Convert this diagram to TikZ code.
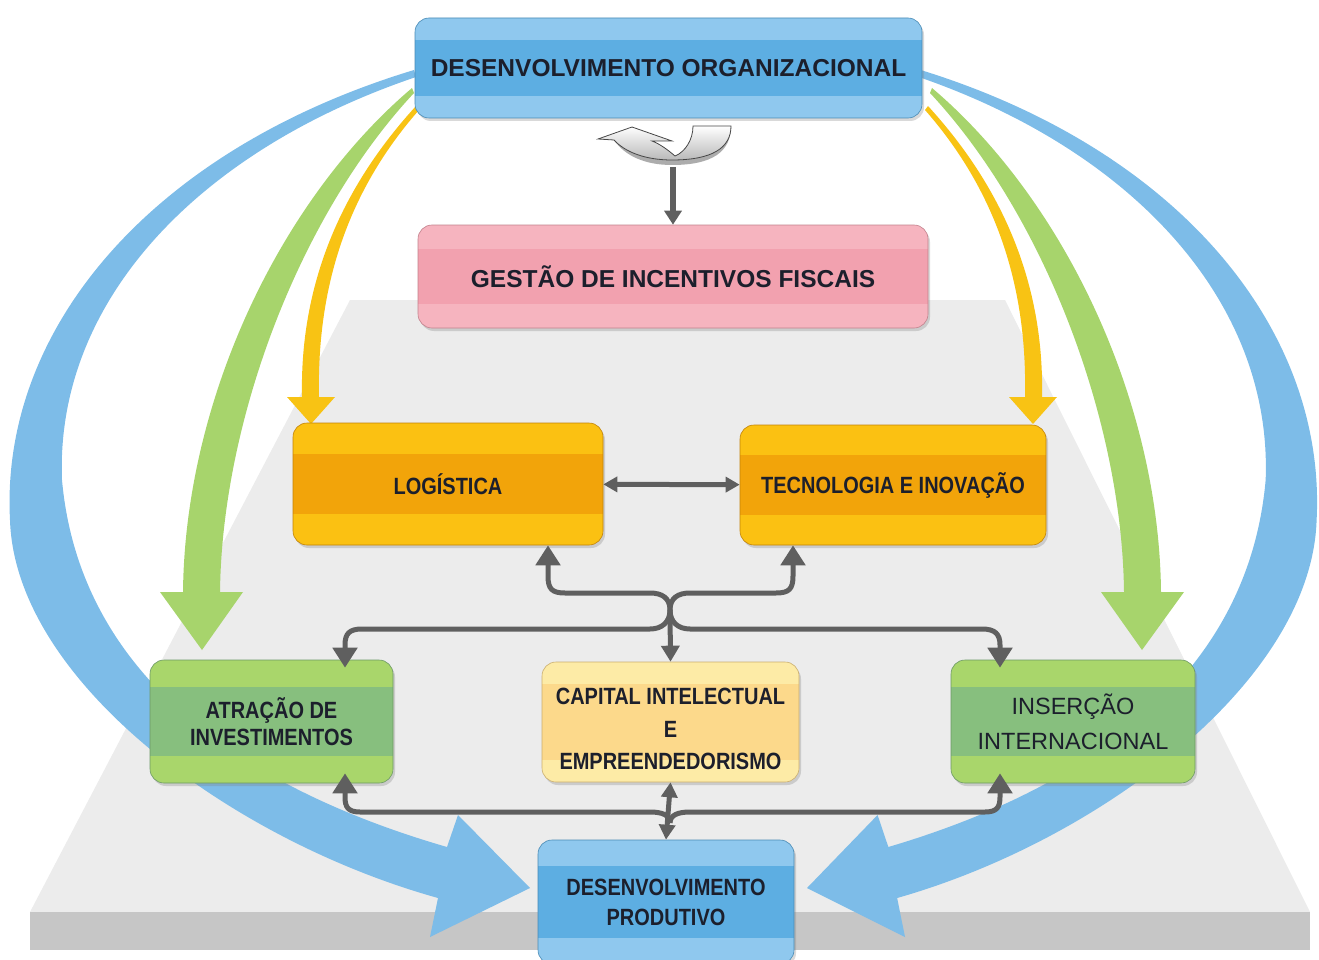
\documentclass[tikz,border=0pt]{standalone}
\usepackage{fontspec}
\setmainfont{Liberation Sans}
\newfontfamily\narrowfont{Liberation Sans}[FakeStretch=0.85]
\usetikzlibrary{arrows.meta,shadows}

\definecolor{ink}{HTML}{1C1F2C}
\definecolor{skyband}{HTML}{8FC8EE}
\definecolor{sky}{HTML}{5DAEE2}
\definecolor{roseband}{HTML}{F6B4BF}
\definecolor{rose}{HTML}{F2A1AF}
\definecolor{ambband}{HTML}{FBC112}
\definecolor{amber}{HTML}{F2A40A}
\definecolor{leafband}{HTML}{A9D66B}
\definecolor{leaf}{HTML}{87BF7E}
\definecolor{creamband}{HTML}{FDEBA6}
\definecolor{cream}{HTML}{FCD98B}
\definecolor{sweepblue}{HTML}{7DBCE8}
\definecolor{sweepgreen}{HTML}{A7D46C}
\definecolor{sweepgold}{HTML}{F8C314}
\definecolor{floor}{HTML}{ECECEC}
\definecolor{flooredge}{HTML}{C6C6C6}
\definecolor{linkgray}{HTML}{5F5F5F}

\tikzset{
  panel/.style n args={3}{rounded corners=14pt, fill=#1, draw=#2!80!black, line width=0.6pt,
    drop shadow={shadow xshift=2pt, shadow yshift=-3pt, opacity=0.3},
    path picture={\fill[#2, sharp corners] ([yshift=-#3]path picture bounding box.north west)
      rectangle ([yshift=#3]path picture bounding box.south east);},
    text=ink, align=center, inner sep=0pt},
  wide label/.style={font=\fontsize{24.5}{28}\selectfont\bfseries},
  narrow label/.style={font=\narrowfont\fontsize{23.5}{#1}\selectfont\bfseries},
  narrow label/.default=28pt,
  link/.style={draw=linkgray, line width=5pt, -{Triangle[width=24pt,length=20pt]}},
}

\begin{document}
\begin{tikzpicture}[x=1pt,y=-1pt]
\useasboundingbox (0,0) rectangle (1319,960);
\clip (0,0) rectangle (1319,960);

% floor under the lower tiers
\fill[floor] (350,300) -- (1005,300) -- (1310,912) -- (30,912) -- cycle;
\fill[flooredge] (30,912) rectangle (1310,950);

% wide sweeps, left one mirrored to the right
\foreach \s/\m in {1/0,-0.98/1326.4}{
  \begin{scope}[xshift=\m pt, xscale=\s]
    \fill[sweepblue] (414,70) .. controls (150,150) and (0,330) .. (10,520)
      .. controls (15,680) and (230,840) .. (438,898) -- (430,937) -- (530,888)
      -- (458,815) -- (447,847) .. controls (250,790) and (80,680) .. (62,480)
      .. controls (55,300) and (200,150) .. (416,77) -- cycle;
  \end{scope}
}
\foreach \s/\m in {1/0,-1/1344}{
  \begin{scope}[xshift=\m pt, xscale=\s]
    \fill[sweepgreen] (412,88) .. controls (280,200) and (185,400) .. (183,592)
      -- (160,592) -- (202,650) -- (243,592) -- (220,592)
      .. controls (222,420) and (300,215) .. (414,93) -- cycle;
    \fill[sweepgold] (416,106) .. controls (330,200) and (300,300) .. (302,397)
      -- (287,397) -- (311,424) -- (335,397) -- (319,397)
      .. controls (317,300) and (340,200) .. (419,110) -- cycle;
  \end{scope}
}

% boxes
\node[panel={skyband}{sky}{22pt}, wide label, minimum width=507pt, minimum height=100pt] (orgdev) at (668.5,68) {DESENVOLVIMENTO ORGANIZACIONAL};
\node[panel={roseband}{rose}{24pt}, wide label, minimum width=510pt, minimum height=103pt] (fiscal) at (673,276.5) {GESTÃO DE INCENTIVOS FISCAIS};
\node[panel={ambband}{amber}{31pt}, narrow label, minimum width=310pt, minimum height=122pt] (logi) at (448,484) {LOGÍSTICA};
\node[panel={ambband}{amber}{30pt}, narrow label, minimum width=306pt, minimum height=120pt] (tecno) at (893,485) {TECNOLOGIA E INOVAÇÃO};
\node[panel={leafband}{leaf}{27pt}, narrow label=27pt, minimum width=243pt, minimum height=123pt] (attract) at (271.5,721.5) {ATRAÇÃO DE\\INVESTIMENTOS};
\node[panel={creamband}{cream}{22pt}, narrow label=32.5pt, minimum width=257pt, minimum height=120pt] (capital) at (670.5,722) {\rule{0pt}{31pt}CAPITAL INTELECTUAL\\E\\EMPREENDEDORISMO};
\node[panel={leafband}{leaf}{27pt}, font=\fontsize{23.5}{35}\selectfont, minimum width=244pt, minimum height=123pt] (insert) at (1073,721.5) {INSERÇÃO\\INTERNACIONAL};
\node[panel={skyband}{sky}{26pt}, narrow label=30pt, minimum width=256pt, minimum height=124pt] (prodev) at (666,902) {DESENVOLVIMENTO\\PRODUTIVO};

% turn-around glyph under the top box
\fill[gray!65] (614,140) .. controls (625,156) and (645,165) .. (672,165)
  .. controls (712,165) and (731,152) .. (731,126)
  .. controls (731,148) and (712,160) .. (672,160)
  .. controls (645,160) and (625,152) .. (614,140) -- cycle;
\shadedraw[top color=white, bottom color=gray!55, draw=gray!55!black, line width=0.8pt]
  (731,126) -- (693,126) .. controls (693,140) and (685,152) .. (675,156)
  .. controls (668,150) and (660,144) .. (652,141) -- (672,141) -- (632,127)
  -- (598,139) -- (614,140) .. controls (625,152) and (645,160) .. (672,160)
  .. controls (712,160) and (731,148) .. (731,126) -- cycle;
\coordinate (cycle) at (673,167);
\draw[link, line width=6pt, -{Triangle[width=17pt,length=14pt]}] (cycle) -- (fiscal.north);

% connectors between the tiers
\draw[link, {Triangle[width=15pt,length=14pt]}-{Triangle[width=15pt,length=14pt]}] (logi) -- (tecno);

\coordinate (hubA) at (670,610);
\coordinate (hubB) at (670,823);
\draw[link] (hubA) .. controls (670,598) and (662,593) .. (650,593) -- (565,593)
  .. controls (552,593) and (548,589) .. (548,576) -- ([xshift=100pt]logi.south);
\draw[link] (hubA) .. controls (670,598) and (678,593) .. (690,593) -- (776,593)
  .. controls (789,593) and (793,589) .. (793,576) -- ([xshift=-100pt]tecno.south);
\draw[link] (hubA) .. controls (670,622) and (662,629) .. (650,629) -- (362,629)
  .. controls (349,629) and (345,634) .. (345,645) -- ([xshift=73.5pt,yshift=-8pt]attract.north);
\draw[link] (hubA) .. controls (670,622) and (678,629) .. (690,629) -- (982,629)
  .. controls (995,629) and (1000,634) .. (1000,645) -- ([xshift=-73pt,yshift=-8pt]insert.north);
\draw[link, -{Triangle[width=18pt,length=16pt]}] (hubA) -- (capital.north);

\draw[link] (hubB) .. controls (670,815) and (662,812) .. (650,812) -- (360,812)
  .. controls (348,812) and (345,807) .. (345,797) -- ([xshift=73.5pt,yshift=10pt]attract.south);
\draw[link] (hubB) .. controls (670,815) and (678,812) .. (690,812) -- (985,812)
  .. controls (997,812) and (1000,807) .. (1000,797) -- ([xshift=-73pt,yshift=10pt]insert.south);
\draw[link, {Triangle[width=16pt,length=15pt]}-{Triangle[width=16pt,length=15pt]}] (capital.south) -- (prodev.north);
\end{tikzpicture}
\end{document}
